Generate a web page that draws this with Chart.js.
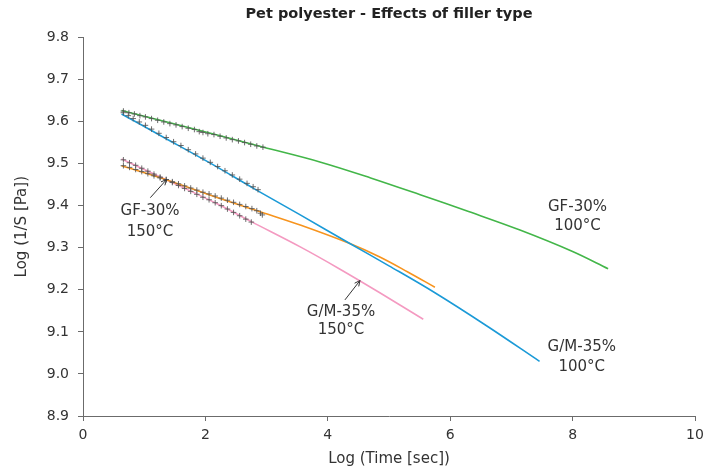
<!DOCTYPE html>
<html>
<head>
<meta charset="utf-8">
<script src="https://cdn.jsdelivr.net/npm/chart.js@4"></script>
<style>
  html, body { margin: 0; padding: 0; background: #ffffff; }
  #wrap { width: 724px; height: 474px; }
</style>
</head>
<body>
<div id="wrap"><canvas id="c" width="724" height="474"></canvas></div>
<script>
// ---- Data ----
const xTicks = [0, 2, 4, 6, 8, 10];
const yTicks = [8.9, 9.0, 9.1, 9.2, 9.3, 9.4, 9.5, 9.6, 9.7, 9.8];

// Fitted curves
const gf100X = [0.63, 1.5, 2.95, 3.87, 4.7, 5.51, 6.3, 7.14, 8.0, 8.58];
const gf100Y = [9.626, 9.594, 9.539, 9.504, 9.466, 9.426, 9.386, 9.342, 9.291, 9.250];

const gm100X = [0.63, 1.3, 2.08, 2.8, 3.55, 4.36, 5.0, 5.75, 6.6, 7.46];
const gm100Y = [9.618, 9.564, 9.501, 9.440, 9.378, 9.310, 9.257, 9.193, 9.114, 9.030];

const gf150X = [0.63, 1.37, 2.3, 2.93, 3.55, 4.36, 4.85, 5.3, 5.75];
const gf150Y = [9.495, 9.461, 9.414, 9.384, 9.354, 9.310, 9.278, 9.243, 9.206];

const gm150X = [0.63, 1.37, 2.2, 2.75, 3.55, 4.2, 4.85, 5.56];
const gm150Y = [9.511, 9.461, 9.404, 9.362, 9.302, 9.249, 9.193, 9.130];

// Measured points (grey crosses)
const gf100PtsX = [0.66, 0.75, 0.84, 0.93, 1.02, 1.12, 1.22, 1.32, 1.42, 1.52, 1.62, 1.72, 1.82, 1.90, 1.96, 2.04, 2.14, 2.24, 2.34, 2.44, 2.54, 2.64, 2.74, 2.84, 2.94];
const gf100PtsY = [9.625, 9.621, 9.618, 9.614, 9.611, 9.607, 9.603, 9.599, 9.595, 9.592, 9.588, 9.584, 9.581, 9.576, 9.574, 9.571, 9.569, 9.565, 9.561, 9.557, 9.554, 9.550, 9.546, 9.542, 9.539];

const gm100PtsX = [0.66, 0.74, 0.82, 0.92, 1.02, 1.12, 1.24, 1.36, 1.48, 1.60, 1.72, 1.84, 1.96, 2.08, 2.20, 2.32, 2.44, 2.56, 2.68, 2.78, 2.86];
const gm100PtsY = [9.621, 9.614, 9.607, 9.599, 9.591, 9.582, 9.572, 9.562, 9.552, 9.543, 9.533, 9.523, 9.513, 9.503, 9.493, 9.483, 9.473, 9.463, 9.453, 9.445, 9.438];

const gf150PtsX = [0.66, 0.76, 0.86, 0.96, 1.06, 1.16, 1.26, 1.36, 1.46, 1.56, 1.66, 1.76, 1.86, 1.96, 2.06, 2.16, 2.26, 2.36, 2.46, 2.56, 2.66, 2.76, 2.84, 2.90, 2.93];
const gf150PtsY = [9.495, 9.491, 9.486, 9.481, 9.476, 9.471, 9.466, 9.462, 9.457, 9.452, 9.447, 9.442, 9.437, 9.432, 9.428, 9.423, 9.418, 9.413, 9.408, 9.403, 9.398, 9.393, 9.388, 9.382, 9.378];

const gm150PtsX = [0.66, 0.76, 0.86, 0.96, 1.06, 1.16, 1.26, 1.36, 1.46, 1.56, 1.66, 1.76, 1.86, 1.96, 2.06, 2.16, 2.26, 2.36, 2.46, 2.56, 2.66, 2.75];
const gm150PtsY = [9.509, 9.502, 9.496, 9.489, 9.482, 9.475, 9.468, 9.462, 9.455, 9.448, 9.441, 9.434, 9.427, 9.420, 9.414, 9.407, 9.400, 9.392, 9.384, 9.376, 9.368, 9.361];

const seriesNames = ['GF-30% 100°C', 'G/M-35% 100°C', 'GF-30% 150°C', 'G/M-35% 150°C'];

// ---- helpers ----
const pts = (xs, ys) => xs.map((x, i) => ({ x: x, y: ys[i] }));

const FONT = "'DejaVu Sans', sans-serif";
const TEXT = '#333333';
const AXIS = '#6b6b6b';

function curve(label, xs, ys, color) {
  return {
    type: 'line', label: label, data: pts(xs, ys),
    borderColor: color, backgroundColor: color, borderWidth: 1.6,
    pointRadius: 0, fill: false, tension: 0.35, order: 2
  };
}
function marks(label, xs, ys) {
  return {
    type: 'scatter', label: label, data: pts(xs, ys),
    pointStyle: 'cross', pointRadius: 2.8, borderColor: 'rgba(85,85,85,0.85)',
    borderWidth: 1, backgroundColor: 'rgba(85,85,85,0.85)', order: 1
  };
}

// Text annotations (label lines at data coordinates) and arrows
const notes = [
  { lines: ['GF-30%', '150°C'], x: 1.095, y: [9.386, 9.338] },
  { lines: ['G/M-35%', '150°C'], x: 4.216, y: [9.148, 9.103] },
  { lines: ['GF-30%', '100°C'], x: 8.08, y: [9.397, 9.351] },
  { lines: ['G/M-35%', '100°C'], x: 8.15, y: [9.063, 9.017] }
];
const arrows = [
  { from: [1.10, 9.419], to: [1.365, 9.462] },
  { from: [4.28, 9.176], to: [4.526, 9.222] }
];

const notePlugin = {
  id: 'notes',
  afterDatasetsDraw(chart) {
    const ctx = chart.ctx, xs = chart.scales.x, ys = chart.scales.y;
    ctx.save();
    ctx.fillStyle = TEXT;
    ctx.font = "15px " + FONT;
    ctx.textAlign = 'center';
    ctx.textBaseline = 'middle';
    notes.forEach(n => {
      n.lines.forEach((t, i) => ctx.fillText(t, xs.getPixelForValue(n.x), ys.getPixelForValue(n.y[i])));
    });
    ctx.strokeStyle = '#333333';
    ctx.lineWidth = 1;
    arrows.forEach(a => {
      const x1 = xs.getPixelForValue(a.from[0]), y1 = ys.getPixelForValue(a.from[1]);
      const x2 = xs.getPixelForValue(a.to[0]), y2 = ys.getPixelForValue(a.to[1]);
      ctx.beginPath(); ctx.moveTo(x1, y1); ctx.lineTo(x2, y2); ctx.stroke();
      const ang = Math.atan2(y2 - y1, x2 - x1), h = 6;
      ctx.beginPath();
      ctx.moveTo(x2 - h * Math.cos(ang - 0.45), y2 - h * Math.sin(ang - 0.45));
      ctx.lineTo(x2, y2);
      ctx.lineTo(x2 - h * Math.cos(ang + 0.45), y2 - h * Math.sin(ang + 0.45));
      ctx.stroke();
    });
    ctx.restore();
  }
};

new Chart(document.getElementById('c'), {
  data: {
    datasets: [
      curve(seriesNames[0], gf100X, gf100Y, '#43b649'),
      curve(seriesNames[1], gm100X, gm100Y, '#1b9ad7'),
      curve(seriesNames[2], gf150X, gf150Y, '#f7941e'),
      curve(seriesNames[3], gm150X, gm150Y, '#f49ac1'),
      marks(seriesNames[0] + ' data', gf100PtsX, gf100PtsY),
      marks(seriesNames[1] + ' data', gm100PtsX, gm100PtsY),
      marks(seriesNames[2] + ' data', gf150PtsX, gf150PtsY),
      marks(seriesNames[3] + ' data', gm150PtsX, gm150PtsY)
    ]
  },
  options: {
    responsive: false,
    animation: false,
    layout: { padding: { left: 0, right: 29, top: 0, bottom: 0 } },
    plugins: {
      legend: { display: false },
      tooltip: { enabled: false },
      title: {
        display: true,
        fullSize: false,
        text: 'Pet polyester - Effects of filler type',
        color: '#222222',
        font: { family: FONT, size: 14.5, weight: 'bold' },
        padding: { top: 6, bottom: 14 }
      }
    },
    scales: {
      x: {
        type: 'linear', min: 0, max: 10,
        afterBuildTicks: s => { s.ticks = xTicks.map(v => ({ value: v })); },
        afterFit: s => { s.height = 58; },
        grid: { display: true, drawOnChartArea: false, drawTicks: true, tickLength: 5, color: AXIS },
        border: { display: true, color: AXIS, width: 1 },
        ticks: { color: TEXT, font: { family: FONT, size: 14 }, padding: 6, callback: v => String(v) },
        title: { display: true, text: 'Log (Time [sec])', color: TEXT, font: { family: FONT, size: 15 }, padding: { top: 0, bottom: 6 } }
      },
      y: {
        type: 'linear', min: 8.9, max: 9.8,
        afterBuildTicks: s => { s.ticks = yTicks.map(v => ({ value: v })); },
        afterFit: s => { s.width = 83; },
        grid: { display: true, drawOnChartArea: false, drawTicks: true, tickLength: 5, color: AXIS },
        border: { display: true, color: AXIS, width: 1 },
        ticks: { color: TEXT, font: { family: FONT, size: 14 }, padding: 9, callback: v => Number(v).toFixed(1) },
        title: { display: true, text: 'Log (1/S [Pa])', color: TEXT, font: { family: FONT, size: 15 }, padding: { top: 13, bottom: 0 } }
      }
    }
  },
  plugins: [notePlugin]
});
</script>
</body>
</html>
